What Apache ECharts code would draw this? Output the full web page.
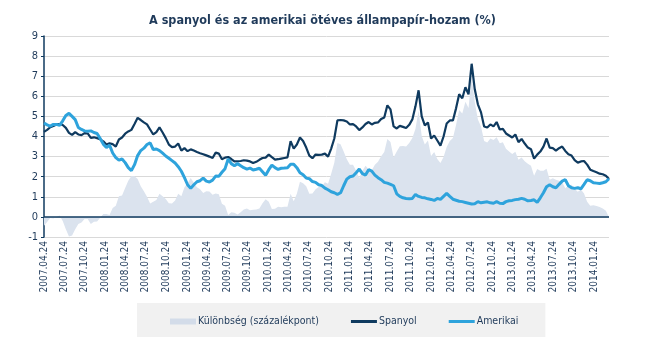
<!DOCTYPE html>
<html>
<head>
<meta charset="utf-8">
<script src="https://cdn.jsdelivr.net/npm/echarts@6/dist/echarts.min.js"></script>
<style>
  html, body { margin: 0; padding: 0; background: #ffffff; }
  #chart { width: 645px; height: 337px; }
</style>
</head>
<body>
<div id="chart"></div>
<script>
// Five-year government bond yields, sampled every two weeks from 2007-04-24
const startDate = '2007-04-24';
const stepDays = 14;

const spanyol = [
  4.23, 4.33, 4.46, 4.52, 4.60, 4.62, 4.57, 4.43, 4.18, 4.08,
  4.22, 4.10, 4.07, 4.17, 4.15, 3.93, 3.96, 3.92, 3.86, 3.76,
  3.60, 3.66, 3.62, 3.50, 3.85, 3.95, 4.14, 4.25, 4.33, 4.62,
  4.93, 4.82, 4.70, 4.60, 4.35, 4.10, 4.22, 4.45, 4.20, 3.92,
  3.60, 3.47, 3.50, 3.65, 3.30, 3.42, 3.27, 3.36, 3.30, 3.23,
  3.17, 3.12, 3.06, 3.00, 2.93, 3.20, 3.15, 2.87, 2.95, 2.98,
  2.88, 2.76, 2.77, 2.78, 2.82, 2.80, 2.76, 2.68, 2.74, 2.84,
  2.93, 2.95, 3.10, 2.97, 2.85, 2.87, 2.90, 2.93, 2.96, 3.77,
  3.40, 3.60, 3.95, 3.78, 3.45, 3.05, 2.92, 3.10, 3.09, 3.10,
  3.15, 3.00, 3.40, 3.90, 4.80, 4.82, 4.80, 4.75, 4.60, 4.62,
  4.50, 4.32, 4.45, 4.62, 4.72, 4.60, 4.68, 4.70, 4.87, 4.95,
  5.55, 5.35, 4.50, 4.40, 4.53, 4.48, 4.42, 4.58, 4.85, 5.50,
  6.30, 5.00, 4.55, 4.70, 3.90, 4.05, 3.80, 3.55, 4.00, 4.65,
  4.80, 4.80, 5.40, 6.10, 5.90, 6.45, 6.10, 7.62, 6.35, 5.60,
  5.20, 4.50, 4.45, 4.60, 4.50, 4.72, 4.35, 4.38, 4.15, 4.05,
  3.95, 4.10, 3.72, 3.88, 3.65, 3.45, 3.37, 2.90, 3.10, 3.25,
  3.50, 3.90, 3.45, 3.42, 3.30, 3.42, 3.50, 3.28, 3.12, 3.05,
  2.82, 2.70, 2.76, 2.78, 2.60, 2.35, 2.28, 2.22, 2.15, 2.12,
  2.05, 1.88
];

const amerikai = [
  4.67, 4.58, 4.52, 4.60, 4.60, 4.55, 4.78, 5.05, 5.15, 5.00,
  4.84, 4.45, 4.35, 4.28, 4.26, 4.28, 4.20, 4.15, 3.90, 3.62,
  3.45, 3.57, 3.18, 2.95, 2.82, 2.88, 2.70, 2.45, 2.30, 2.60,
  3.05, 3.30, 3.42, 3.60, 3.68, 3.35, 3.38, 3.30, 3.17, 3.03,
  2.92, 2.80, 2.68, 2.50, 2.27, 1.95, 1.60, 1.42, 1.60, 1.75,
  1.80, 1.93, 1.78, 1.74, 1.83, 2.03, 2.02, 2.22, 2.40, 2.88,
  2.65, 2.55, 2.65, 2.55, 2.45, 2.38, 2.43, 2.33, 2.37, 2.42,
  2.25, 2.07, 2.35, 2.58, 2.45, 2.36, 2.42, 2.43, 2.45, 2.62,
  2.62, 2.45, 2.20, 2.10, 1.93, 1.90, 1.76, 1.72, 1.60, 1.56,
  1.43, 1.35, 1.25, 1.20, 1.12, 1.20, 1.55, 1.88, 2.00, 2.03,
  2.20, 2.38, 2.15, 2.08, 2.35, 2.28, 2.08, 1.95, 1.85, 1.72,
  1.68, 1.62, 1.55, 1.15, 1.02, 0.95, 0.92, 0.90, 0.92, 1.12,
  1.02, 0.97, 0.95, 0.90, 0.87, 0.82, 0.92, 0.87, 1.02, 1.17,
  1.02, 0.88, 0.83, 0.78, 0.76, 0.72, 0.68, 0.64, 0.65, 0.76,
  0.70, 0.73, 0.75, 0.70, 0.68, 0.76, 0.68, 0.66, 0.76, 0.80,
  0.82, 0.86, 0.88, 0.92, 0.88, 0.80, 0.82, 0.85, 0.72, 0.95,
  1.20, 1.50, 1.60, 1.50, 1.45, 1.62, 1.78, 1.85, 1.55, 1.45,
  1.42, 1.45, 1.40, 1.62, 1.85, 1.80, 1.70, 1.68, 1.66, 1.70,
  1.75, 1.90
];

const tickLabels = [
  '2007.04.24', '2007.07.24', '2007.10.24', '2008.01.24', '2008.04.24',
  '2008.07.24', '2008.10.24', '2009.01.24', '2009.04.24', '2009.07.24',
  '2009.10.24', '2010.01.24', '2010.04.24', '2010.07.24', '2010.10.24',
  '2011.01.24', '2011.04.24', '2011.07.24', '2011.10.24', '2012.01.24',
  '2012.04.24', '2012.07.24', '2012.10.24', '2013.01.24', '2013.04.24',
  '2013.07.24', '2013.10.24', '2014.01.24'
];

const seriesNames = ['Különbség (százalékpont)', 'Spanyol', 'Amerikai'];
const yMin = -1, yMax = 9;

const DAY = 86400000;
const toTs = s => { const p = s.split(/[.-]/).map(Number); return Date.UTC(p[0], p[1] - 1, p[2]); };
const t0 = toTs(startDate);
const times = spanyol.map((_, i) => t0 + i * stepDays * DAY);
const spread = spanyol.map((v, i) => +(v - amerikai[i]).toFixed(2));
const tickTs = tickLabels.map(toTs);
const labelOf = {};
tickTs.forEach((t, i) => { labelOf[t] = tickLabels[i]; });

const pair = arr => arr.map((v, i) => [times[i], v]);

const navy = '#0f3a5f';
const sky = '#2ea3dc';
const spreadFill = '#dbe3ee';
const textColor = '#1f3a5a';
const font = "'DejaVu Sans Condensed', 'DejaVu Sans', sans-serif";

// legend glyphs: a thin bar inside a 26x6 box for the lines, a full swatch for the area
const lineIcon = 'path://M0,0M26,6M0,1.5H26V4.5H0Z';
const swatchIcon = 'path://M0,0.5H26V5.5H0Z';

const chart = echarts.init(document.getElementById('chart'), null, { renderer: 'canvas' });
chart.setOption({
  animation: false,
  textStyle: { fontFamily: font },
  title: {
    text: 'A spanyol és az amerikai ötéves állampapír-hozam (%)',
    left: 'center',
    top: 9,
    textStyle: { fontSize: 12.5, fontWeight: 'bold', color: textColor, fontFamily: font }
  },
  grid: { left: 44, right: 36, top: 36, bottom: 100 },
  legend: {
    left: 137,
    top: 303,
    padding: [13, 27, 16, 33],
    backgroundColor: '#f1f1f1',
    itemGap: 32,
    itemWidth: 26,
    itemHeight: 6,
    symbolKeepAspect: false,
    textStyle: { color: textColor, fontSize: 10.5, fontFamily: font, padding: [0, 0, 0, -3] },
    data: [
      { name: seriesNames[0], icon: swatchIcon, itemStyle: { color: '#d3dce9' } },
      { name: seriesNames[1], icon: lineIcon, itemStyle: { color: navy } },
      { name: seriesNames[2], icon: lineIcon, itemStyle: { color: sky } }
    ]
  },
  xAxis: {
    type: 'value',
    min: t0,
    max: times[times.length - 1],
    axisLine: { show: false },
    axisTick: { show: false },
    splitLine: { show: false },
    axisLabel: {
      customValues: tickTs,
      rotate: 90,
      margin: 4,
      fontSize: 10,
      color: textColor,
      formatter: v => labelOf[v] || ''
    }
  },
  yAxis: {
    type: 'value',
    min: yMin,
    max: yMax,
    interval: 1,
    axisLine: { show: true, lineStyle: { color: navy, width: 1.5 } },
    axisTick: { show: true, length: 3, lineStyle: { color: navy } },
    axisLabel: { color: textColor, fontSize: 11, margin: 6 },
    splitLine: { show: true, lineStyle: { color: '#d9d9d9', width: 1 } }
  },
  series: [
    {
      name: seriesNames[0],
      type: 'line',
      data: pair(spread),
      symbol: 'none',
      lineStyle: { width: 0, color: spreadFill },
      itemStyle: { color: '#d3dce9' },
      areaStyle: { color: spreadFill, opacity: 1 },
      z: 1,
      markLine: {
        silent: true,
        symbol: 'none',
        label: { show: false },
        lineStyle: { color: navy, width: 1.5, type: 'solid' },
        data: [{ yAxis: 0 }]
      }
    },
    {
      name: seriesNames[1],
      type: 'line',
      data: pair(spanyol),
      symbol: 'none',
      lineStyle: { width: 2.2, color: navy },
      itemStyle: { color: navy },
      z: 3
    },
    {
      name: seriesNames[2],
      type: 'line',
      data: pair(amerikai),
      symbol: 'none',
      lineStyle: { width: 3, color: sky },
      itemStyle: { color: sky },
      z: 4
    }
  ]
});
</script>
</body>
</html>
